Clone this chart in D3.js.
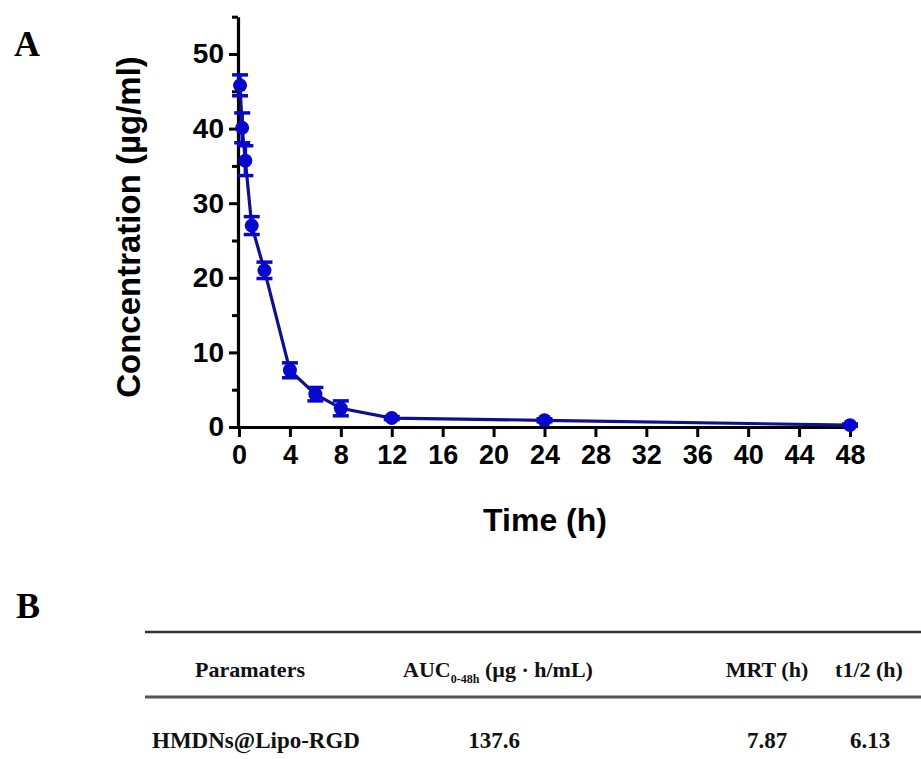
<!DOCTYPE html>
<html>
<head>
<meta charset="utf-8">
<script src="https://cdn.jsdelivr.net/npm/d3@7"></script>
<style>
  body { margin: 0; background: #fff; }
  svg { display: block; }
  .tick text { font-family: "Liberation Sans", Arial, sans-serif; font-weight: bold; }
</style>
</head>
<body>
<div id="chart"></div>
<script>
const width = 921;
const height = 759;

// pharmacokinetic profile (mean ± error)
const times = [0.083, 0.25, 0.5, 1, 2, 4, 6, 8, 12, 24, 48];
const conc = [45.8, 40.1, 35.7, 27.0, 21.0, 7.6, 4.4, 2.5, 1.2, 0.9, 0.25];
const errs = [1.4, 2.0, 2.0, 1.2, 1.1, 1.0, 0.9, 1.0, 0.2, 0.2, 0.15];

const xTicks = [0, 4, 8, 12, 16, 20, 24, 28, 32, 36, 40, 44, 48];
const yTicks = [0, 10, 20, 30, 40, 50];
const yMinor = [5, 15, 25, 35, 45, 55];

// table B
const tableHeaders = ["Paramaters", "AUC", "MRT (h)", "t1/2 (h)"];
const tableRow = ["HMDNs@Lipo-RGD", "137.6", "7.87", "6.13"];

const lineColor = "#10108c";
const dotColor = "#0808cc";

let svg = d3.select("#chart").append("svg")
    .attr("width", width)
    .attr("height", height);

let x = d3.scaleLinear().domain([0, 48]).range([239, 850]);
let y = d3.scaleLinear().domain([0, 55]).range([427, 16.7]);

let g = svg.append("g");

// axes
let xAxis = g.append("g")
    .attr("transform", `translate(0,${y(0)})`)
    .call(d3.axisBottom(x).tickValues(xTicks).tickSize(10).tickPadding(8).tickSizeOuter(0));
xAxis.select(".domain").attr("stroke-width", 3.2);
xAxis.selectAll(".tick line").attr("stroke-width", 3);
xAxis.selectAll(".tick text").style("font-size", "27px").attr("dy", "0.72em");

let yAxis = g.append("g")
    .attr("transform", `translate(${x(0) - 1},0)`)
    .call(d3.axisLeft(y).tickValues(yTicks).tickSize(9).tickPadding(5).tickSizeOuter(0));
yAxis.select(".domain").attr("stroke-width", 3.2);
yAxis.selectAll(".tick line").attr("stroke-width", 3);
yAxis.selectAll(".tick text").style("font-size", "28px");

let yAxisMinor = g.append("g")
    .attr("transform", `translate(${x(0) - 1},0)`)
    .call(d3.axisLeft(y).tickValues(yMinor).tickSize(6).tickFormat(""));
yAxisMinor.select(".domain").remove();
yAxisMinor.selectAll(".tick line").attr("stroke-width", 3);

// axis titles
svg.append("text")
    .attr("x", 545).attr("y", 531)
    .attr("text-anchor", "middle")
    .style("font-family", "Liberation Sans, Arial, sans-serif")
    .style("font-weight", "bold")
    .style("font-size", "32px")
    .text("Time (h)");

svg.append("text")
    .attr("transform", `translate(140, 227) rotate(-90)`)
    .attr("text-anchor", "middle")
    .style("font-family", "Liberation Sans, Arial, sans-serif")
    .style("font-weight", "bold")
    .style("font-size", "33px")
    .text("Concentration (µg/ml)");

// panel letters
svg.append("text")
    .attr("x", 14).attr("y", 56)
    .style("font-family", "Liberation Serif, Times New Roman, serif")
    .style("font-weight", "bold")
    .style("font-size", "36px")
    .text("A");

svg.append("text")
    .attr("x", 16).attr("y", 618)
    .style("font-family", "Liberation Serif, Times New Roman, serif")
    .style("font-weight", "bold")
    .style("font-size", "36px")
    .text("B");

// data
let data = times.map((t, i) => ({t: t, c: conc[i], e: errs[i]}));

let line = d3.line()
    .x(d => x(d.t))
    .y(d => y(d.c));

g.append("path")
    .datum(data)
    .attr("fill", "none")
    .attr("stroke", lineColor)
    .attr("stroke-width", 3.2)
    .attr("d", line);

let bars = g.selectAll(".err")
    .data(data)
    .join("g")
    .attr("class", "err")
    .attr("stroke", dotColor)
    .attr("stroke-width", 3.5);

bars.append("line")
    .attr("x1", d => x(d.t)).attr("x2", d => x(d.t))
    .attr("y1", d => y(d.c + d.e)).attr("y2", d => y(d.c - d.e));
bars.append("line")
    .attr("x1", d => x(d.t) - 8).attr("x2", d => x(d.t) + 8)
    .attr("y1", d => y(d.c + d.e)).attr("y2", d => y(d.c + d.e));
bars.append("line")
    .attr("x1", d => x(d.t) - 8).attr("x2", d => x(d.t) + 8)
    .attr("y1", d => y(d.c - d.e)).attr("y2", d => y(d.c - d.e));

g.selectAll("circle")
    .data(data)
    .join("circle")
    .attr("cx", d => x(d.t))
    .attr("cy", d => y(d.c))
    .attr("r", 7)
    .attr("fill", dotColor);

// table
const tableFont = "Liberation Serif, Times New Roman, serif";
const colX = [250, 498, 767, 869];

let table = svg.append("g")
    .style("font-family", tableFont)
    .style("font-weight", "bold")
    .attr("fill", "#111");

table.append("line")
    .attr("x1", 145).attr("x2", width)
    .attr("y1", 632).attr("y2", 632)
    .attr("stroke", "#333").attr("stroke-width", 2.5);
table.append("line")
    .attr("x1", 145).attr("x2", width)
    .attr("y1", 697).attr("y2", 697)
    .attr("stroke", "#555").attr("stroke-width", 3);

let head = table.selectAll(".head")
    .data(tableHeaders)
    .join("text")
    .attr("class", "head")
    .attr("x", (d, i) => colX[i])
    .attr("y", 677)
    .attr("text-anchor", "middle")
    .style("font-size", "22px");

head.each(function(d, i) {
    let t = d3.select(this);
    if (i === 1) {
        t.append("tspan").text("AUC");
        t.append("tspan").attr("dy", 6).style("font-size", "12px").text("0-48h");
        t.append("tspan").attr("dy", -6).text(" (µg · h/mL)");
    } else {
        t.text(d);
    }
});

table.selectAll(".cell")
    .data(tableRow)
    .join("text")
    .attr("class", "cell")
    .attr("x", (d, i) => [256, 494, 767, 870][i])
    .attr("y", 748)
    .attr("text-anchor", "middle")
    .style("font-size", "23px")
    .text(d => d);
</script>
</body>
</html>
